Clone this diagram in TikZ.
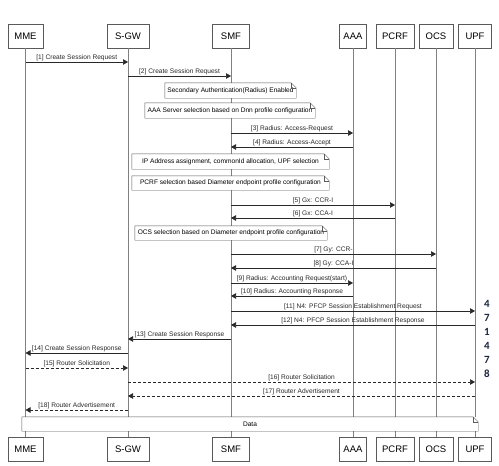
\documentclass[tikz,border=0pt]{standalone}
\usepackage{fontspec}
\setmainfont{Liberation Sans}
\newfontfamily\numfont{Carlito}
\usetikzlibrary{arrows.meta}
\usetikzlibrary{positioning}
\definecolor{linegray}{RGB}{128,128,128}
\definecolor{boxgray}{RGB}{90,90,90}
\definecolor{msggray}{RGB}{40,40,40}
\definecolor{numblue}{RGB}{30,38,64}
\tikzset{
  actor/.style={draw=boxgray, fill=white, minimum width=#1, minimum height=24pt, inner sep=0pt, font=\fontsize{9.5}{11}\selectfont},
  lifeline/.style={draw=linegray, line width=0.9pt},
  msg/.style={draw=msggray, line width=0.7pt, -{Triangle[length=5pt,width=5.5pt]}},
  reply/.style={msg, dash pattern=on 3pt off 2pt},
  msglabel/.style={above=0.2pt, font=\fontsize{6.6}{7}\selectfont, inner sep=0.5pt, text=msggray},
  notebox/.style={fill=white, minimum height=#1, inner sep=0pt, font=\fontsize{6.6}{7}\selectfont},
  numtext/.style={font=\numfont\bfseries\fontsize{11}{12}\selectfont, text=numblue, inner sep=0pt}
}
% outline of a note with folded corner
\newcommand{\fold}[1]{%
  \draw[boxgray] (#1.south west) -- (#1.north west) -- ([xshift=-5pt]#1.north east) -- ([yshift=-5pt]#1.north east) -- (#1.south east) -- cycle;
  \draw[boxgray] ([xshift=-5pt]#1.north east) -- ([xshift=-5pt,yshift=-5pt]#1.north east) -- ([yshift=-5pt]#1.north east);}

\begin{document}
\begin{tikzpicture}[x=1pt, y=-1pt]
  \fill[white] (0,0) rectangle (499,466);
  \useasboundingbox (0,0) rectangle (499,466);

  % participants
  \node[actor=35pt] (mme) at (25.5,36) {MME};
  \node[actor=42pt] (sgw) at (128,36) {S-GW};
  \node[actor=37pt] (smf) at (231,36) {SMF};
  \node[actor=27pt] (aaa) at (353,36) {AAA};
  \node[actor=38pt] (pcrf) at (395,36) {PCRF};
  \node[actor=34pt] (ocs) at (436,36) {OCS};
  \node[actor=33pt] (upf) at (475,36) {UPF};

  \node[actor=35pt] (mmeb) at (25.5,449.5) {MME};
  \node[actor=42pt] (sgwb) at (128,449.5) {S-GW};
  \node[actor=37pt] (smfb) at (231,449.5) {SMF};
  \node[actor=27pt] (aaab) at (353,449.5) {AAA};
  \node[actor=38pt] (pcrfb) at (395,449.5) {PCRF};
  \node[actor=34pt] (ocsb) at (436,449.5) {OCS};
  \node[actor=33pt] (upfb) at (475,449.5) {UPF};

  \foreach \p in {mme,sgw,smf,aaa,pcrf,ocs,upf}
    \draw[lifeline] (\p.south) -- (\p b.north);

  % notes
  \node[notebox=15pt, minimum width=131pt] (n1) at (230.5,90.5) {Secondary Authentication(Radius) Enabled};
  \fold{n1}
  \node[notebox=15pt, minimum width=170pt] (n2) at (230,110.5) {AAA Server selection based on Dnn profile configuration};
  \fold{n2}
  \node[notebox=15pt, minimum width=197pt] (n3) at (230.5,161.5) {IP Address assignment, commonId allocation, UPF selection};
  \fold{n3}
  \node[notebox=14pt, minimum width=197pt] (n4) at (230.5,183) {PCRF selection based Diameter endpoint profile configuration};
  \fold{n4}
  \node[notebox=14pt, minimum width=192pt] (n5) at (231,233) {OCS selection based on Diameter endpoint profile configuration};
  \fold{n5}
  \node[notebox=14pt, minimum width=456pt] (data) at (250,424) {Data};
  \fold{data}

  % message rows
  \foreach \i/\y in {1/62,2/76,3/133,4/147,5/205,6/218,7/254,8/268,9/283,10/296,11/311,12/325,13/339,14/353,15/368,16/382,17/396,18/410}
    \coordinate (m\i) at (0,\y);

  \draw[msg] (mme |- m1) -- node[msglabel] {[1] Create Session Request} (sgw |- m1);
  \draw[msg] (sgw |- m2) -- node[msglabel] {[2] Create Session Request} (smf |- m2);
  \draw[msg] (smf |- m3) -- node[msglabel] {[3] Radius: Access-Request} (aaa |- m3);
  \draw[msg] (aaa |- m4) -- node[msglabel] {[4] Radius: Access-Accept} (smf |- m4);
  \draw[msg] (smf |- m5) -- node[msglabel] {[5] Gx: CCR-I} (pcrf |- m5);
  \draw[msg] (pcrf |- m6) -- node[msglabel] {[6] Gx: CCA-I} (smf |- m6);
  \draw[msg] (smf |- m7) -- node[msglabel] {[7] Gy: CCR-} (ocs |- m7);
  \draw[msg] (ocs |- m8) -- node[msglabel] {[8] Gy: CCA-I} (smf |- m8);
  \draw[msg] (smf |- m9) -- node[msglabel] {[9] Radius: Accounting Request(start)} (aaa |- m9);
  \draw[msg] (aaa |- m10) -- node[msglabel] {[10] Radius: Accounting Response} (smf |- m10);
  \draw[msg] (smf |- m11) -- node[msglabel] {[11] N4: PFCP Session Establishment Request} (upf |- m11);
  \draw[msg] (upf |- m12) -- node[msglabel] {[12] N4: PFCP Session Establishment Response} (smf |- m12);
  \draw[msg] (smf |- m13) -- node[msglabel] {[13] Create Session Response} (sgw |- m13);
  \draw[msg] (sgw |- m14) -- node[msglabel] {[14] Create Session Response} (mme |- m14);
  \draw[reply] (mme |- m15) -- node[msglabel] {[15] Router Solicitation} (sgw |- m15);
  \draw[reply] (sgw |- m16) -- node[msglabel] {[16] Router Solicitation} (upf |- m16);
  \draw[reply] (upf |- m17) -- node[msglabel] {[17] Router Advertisement} (sgw |- m17);
  \draw[reply] (sgw |- m18) -- node[msglabel] {[18] Router Advertisement} (mme |- m18);

  % stacked digits on the right
  \foreach \d [count=\i] in {4,7,1,4,7,8}
    \node[numtext] (num\i) at (487,290+14*\i) {\d};
\end{tikzpicture}
\end{document}
